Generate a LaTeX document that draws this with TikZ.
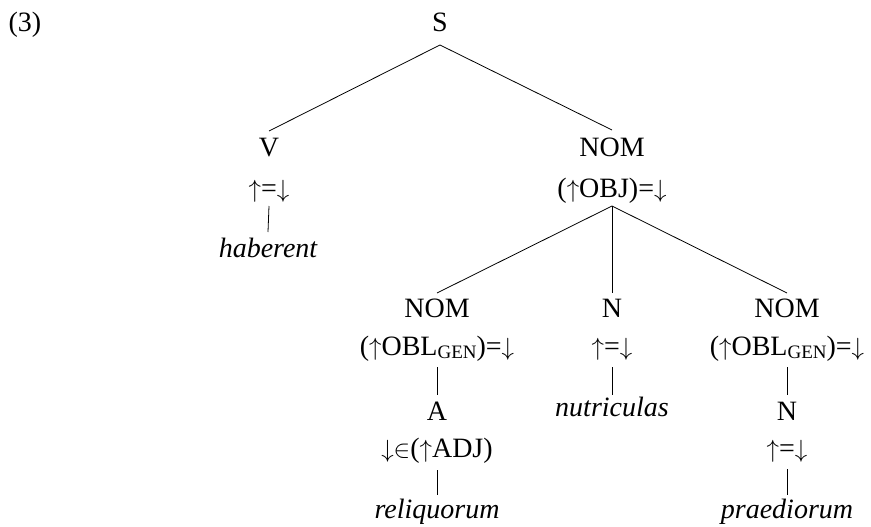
\documentclass[tikz,border=0pt]{standalone}
\usepackage{fontspec}
\setmainfont{Liberation Serif}
\newcommand{\gensub}{\raisebox{-0.28ex}{\fontsize{19}{19}\selectfont GEN}}
\newcommand{\up}{$\uparrow$}
\newcommand{\dn}{$\downarrow$}
\begin{document}
\begin{tikzpicture}[x=1pt,y=-1pt,
  lab/.style={anchor=base,inner sep=0pt,font=\fontsize{28}{34}\selectfont},
  word/.style={lab,font=\fontsize{28}{34}\selectfont\itshape},
  edge/.style={line width=0.8pt}]
\useasboundingbox (0,0) rectangle (871,527);
% labels
\node[lab] (ex) at (25,32) {(3)};
\node[lab] (S) at (440,32) {S};
\node[lab] (V) at (269,157) {V};
\node[lab] (Vf) at (269,197) {\up=\dn};
\node[word] (hab) at (268,257) {haberent};
\node[lab] (NOM) at (612,157) {NOM};
\node[lab] (NOMf) at (612,197) {(\up OBJ)=\dn};
\node[lab] (NL) at (437,317) {NOM};
\node[lab] (NLf) at (437,355) {(\up OBL\gensub)=\dn};
\node[lab] (A) at (437,420) {A};
\node[lab] (Af) at (437,457) {\dn$\in$(\up ADJ)};
\node[word] (rel) at (437,518) {reliquorum};
\node[lab] (NM) at (612,317) {N};
\node[lab] (NMf) at (612,355) {\up=\dn};
\node[word] (nut) at (612,416) {nutriculas};
\node[lab] (NR) at (787,317) {NOM};
\node[lab] (NRf) at (787,355) {(\up OBL\gensub)=\dn};
\node[lab] (NR2) at (787,420) {N};
\node[lab] (NR2f) at (787,457) {\up=\dn};
\node[word] (pra) at (787,518) {praediorum};
% connectors
\draw[edge] ([yshift=26pt]V.base) -- ([yshift=-13pt]S.base) -- ([yshift=27pt]NOM.base);
\draw[edge] ([yshift=-9pt]Vf.base) -- ([yshift=25pt]hab.base);
\draw[edge] ([yshift=24pt]NL.base) -- ([yshift=-9pt]NOMf.base) -- ([yshift=24pt]NR.base);
\draw[edge] ([yshift=-9pt]NOMf.base) -- ([yshift=24pt]NM.base);
\draw[edge] ([yshift=-12pt]NLf.base) -- ([yshift=25pt]A.base);
\draw[edge] ([yshift=-13pt]Af.base) -- ([yshift=23pt]rel.base);
\draw[edge] ([yshift=-12pt]NMf.base) -- ([yshift=21pt]nut.base);
\draw[edge] ([yshift=-12pt]NRf.base) -- ([yshift=25pt]NR2.base);
\draw[edge] ([yshift=-12pt]NR2f.base) -- ([yshift=23pt]pra.base);
\end{tikzpicture}
\end{document}
